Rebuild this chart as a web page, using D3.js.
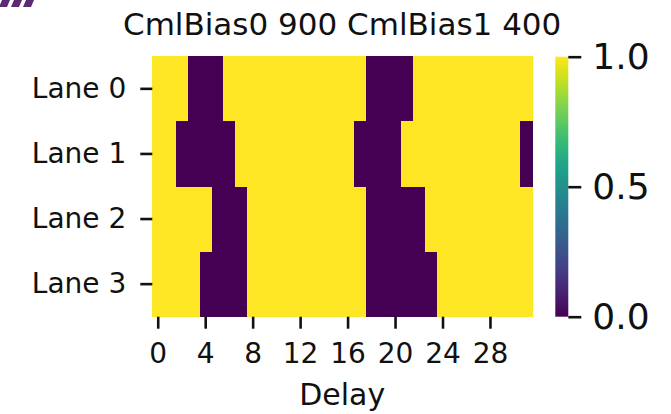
<!DOCTYPE html>
<html>
<head>
<meta charset="utf-8">
<script src="https://cdn.jsdelivr.net/npm/d3@7"></script>
<style>
  body { margin: 0; background: #fff; }
  svg { display: block; font-family: "DejaVu Sans", sans-serif; }
</style>
</head>
<body>
<div id="chart"></div>
<script>
// 1 = pass, 0 = fail, one row per lane, index = delay
var lanes = ["Lane 0", "Lane 1", "Lane 2", "Lane 3"];
var delays = d3.range(32);
var lane0 = [1,1,1,0,0,0,1,1,1,1,1,1,1,1,1,1,1,1,0,0,0,0,1,1,1,1,1,1,1,1,1,1];
var lane1 = [1,1,0,0,0,0,0,1,1,1,1,1,1,1,1,1,1,0,0,0,0,1,1,1,1,1,1,1,1,1,1,0];
var lane2 = [1,1,1,1,1,0,0,0,1,1,1,1,1,1,1,1,1,1,0,0,0,0,0,1,1,1,1,1,1,1,1,1];
var lane3 = [1,1,1,1,0,0,0,0,1,1,1,1,1,1,1,1,1,1,0,0,0,0,0,0,1,1,1,1,1,1,1,1];
var xTicks = [0, 4, 8, 12, 16, 20, 24, 28];
var cbarTicks = [0, 0.5, 1];
var title = "CmlBias0 900 CmlBias1 400";

var rows = [lane0, lane1, lane2, lane3];
var cells = [];
rows.forEach(function(r, i) {
  r.forEach(function(v, j) { cells.push({lane: lanes[i], delay: delays[j], value: v}); });
});

var W = 671, H = 414;
var hm = {left: 152.3, right: 532, top: 56.3, bottom: 316.7};

var svg = d3.select("#chart").append("svg")
  .attr("width", W).attr("height", H);

// stray marks in the top-left corner of the reference
var marks = svg.append("g").attr("fill", "#5b2a72");
[0, 12, 24].forEach(function(x0) {
  marks.append("path").attr("d", "M" + (x0 + 2) + ",0 L" + (x0 + 10) + ",0 L" + (x0 + 7) + ",7 L" + (x0 - 1) + ",7 Z");
});

var x = d3.scaleBand().domain(delays).range([hm.left, hm.right]).padding(0);
var y = d3.scaleBand().domain(lanes).range([hm.top, hm.bottom]).padding(0);
var color = d3.scaleSequential(d3.interpolateViridis).domain([0, 1]);

svg.append("g").selectAll("rect")
  .data(cells)
  .enter().append("rect")
  .attr("x", function(d) { return x(d.delay); })
  .attr("y", function(d) { return y(d.lane); })
  .attr("width", x.bandwidth() + 0.5)
  .attr("height", y.bandwidth() + 0.5)
  .attr("fill", function(d) { return color(d.value); })
  .attr("shape-rendering", "crispEdges");

// axes
var xAxis = svg.append("g")
  .attr("transform", "translate(0," + hm.bottom + ")")
  .call(d3.axisBottom(x).tickValues(xTicks).tickSize(12).tickPadding(14));
var yAxis = svg.append("g")
  .attr("transform", "translate(" + hm.left + ",0)")
  .call(d3.axisLeft(y).tickSize(12).tickPadding(14));

[xAxis, yAxis].forEach(function(a) {
  a.select(".domain").remove();
  a.selectAll(".tick line").attr("stroke", "#111").attr("stroke-width", 2.6);
  a.selectAll(".tick text").attr("fill", "#111").style("font-size", "28px").style("font-family", "DejaVu Sans");
});

// colorbar
var cb = {x: 555.3, w: 13, top: 56.7, bottom: 316.7};
var defs = svg.append("defs");
var grad = defs.append("linearGradient").attr("id", "viridis")
  .attr("x1", "0%").attr("y1", "100%").attr("x2", "0%").attr("y2", "0%");
d3.range(0, 1.0001, 0.05).forEach(function(t) {
  grad.append("stop").attr("offset", (t * 100) + "%").attr("stop-color", color(t));
});
svg.append("rect")
  .attr("x", cb.x).attr("y", cb.top)
  .attr("width", cb.w).attr("height", cb.bottom - cb.top)
  .attr("fill", "url(#viridis)");

var cbScale = d3.scaleLinear().domain([0, 1]).range([cb.bottom, cb.top]);
var cbAxis = svg.append("g")
  .attr("transform", "translate(" + (cb.x + cb.w) + ",0)")
  .call(d3.axisRight(cbScale).tickValues(cbarTicks).tickFormat(d3.format(".1f")).tickSize(13).tickPadding(11));
cbAxis.select(".domain").remove();
cbAxis.selectAll(".tick line").attr("stroke", "#111").attr("stroke-width", 2.6);
cbAxis.selectAll(".tick text").attr("fill", "#111").style("font-size", "36px").style("font-family", "DejaVu Sans");

// title and x label
var cx = (hm.left + hm.right) / 2;
svg.append("text")
  .attr("x", cx).attr("y", 35)
  .attr("text-anchor", "middle")
  .style("font-size", "31px").attr("fill", "#111")
  .text(title);
svg.append("text")
  .attr("x", cx).attr("y", 405)
  .attr("text-anchor", "middle")
  .style("font-size", "30px").attr("fill", "#111")
  .text("Delay");
</script>
</body>
</html>
